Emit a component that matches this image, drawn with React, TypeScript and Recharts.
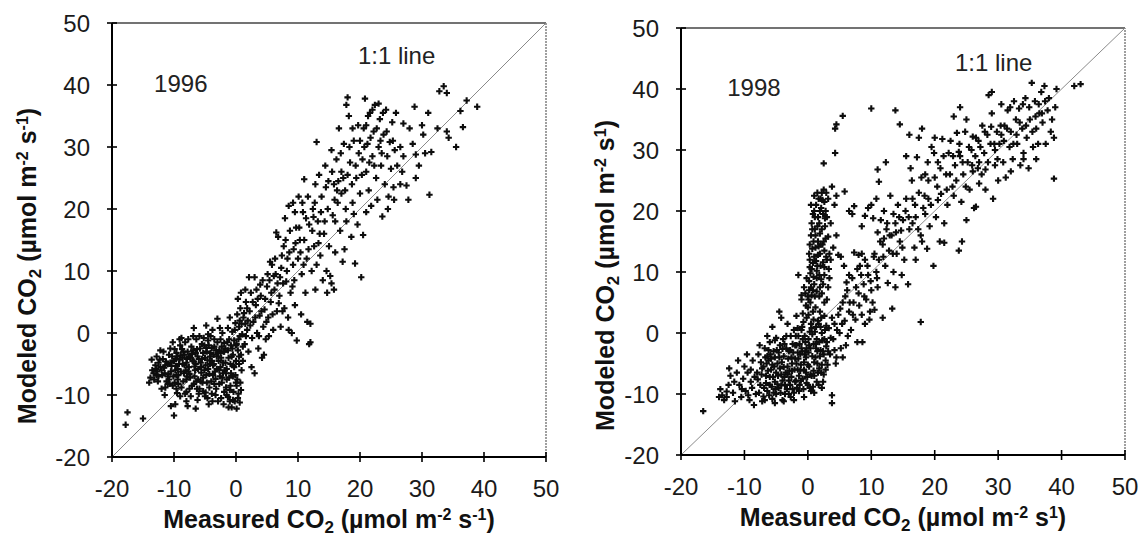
import React from 'react';
import { ScatterChart, Scatter, XAxis, YAxis, ReferenceLine, ReferenceDot } from 'recharts';

const FONT = '"Liberation Sans", Arial, Helvetica, sans-serif';

const axisTicks = [-20, -10, 0, 10, 20, 30, 40, 50];
const axisDomain: [number, number] = [-20, 50];

const yearLabels = ['1996', '1998'];
const lineLabel = '1:1 line';
const xTitleWord = 'Measured';
const yTitleWord = 'Modeled';

// 1996: measured (x) vs modeled (y) CO2 flux
const points1996: [number, number][] = [
  [-17.5,-12.8],[-17.8,-14.8],[-15,-13.8],[-13.2,-7.5],[-14,-8],[-12.5,-7],[-10,-13.3],[-9.8,-11.5],[-10.5,-11.8],[-8,-11],[-7.8,-11.8],[-6.5,-12.2],[-9,-10.2],[-9.5,-9.7],[-11.5,-10],[-12,-9],
  [-13.5,-6],[-13,-5.2],[-12.8,-6.8],[-12.2,-5.5],[-11.8,-4.2],[-11.5,-6.5],[-11.2,-7.8],[-11,-5],[-10.8,-3.5],[-10.5,-6.2],[-10.2,-8.5],[-10,-4.5],[-12.5,-4.8],[-11.7,-3],[-10.6,-2.5],
  [-9.8,-6],[-9.6,-3.2],[-9.4,-7.5],[-9.2,-5],[-9,-2],[-8.8,-8.8],[-8.6,-4],[-8.4,-6.5],[-8.2,-1.5],[-8,-9.5],[-7.8,-3],[-7.6,-5.5],[-7.4,-7.2],[-7.2,-2.2],[-7,-4.5],[-6.8,-8.2],[-6.6,-6],[-6.4,-1],[-6.2,-3.8],[-6,-9.8],[-9.9,-8],[-9.1,-1],[-8.5,-3],[-7.9,-7],[-7.3,-10.2],[-6.9,-0.5],[-6.5,-5],[-6.1,-7.5],
  [-5.8,-2.5],[-5.6,-5.5],[-5.4,-8],[-5.2,-0.8],[-5,-4],[-4.8,-6.8],[-4.6,-10.5],[-4.4,-2],[-4.2,-5],[-4,-7.8],[-3.8,0.5],[-3.6,-3.5],[-3.4,-6.2],[-3.2,-9],[-3,-1.5],[-2.8,-4.5],[-2.6,-7],[-2.4,-10.5],[-2.2,0],[-2,-3],[-5.9,-9],[-5.5,-1.8],[-5.1,-6],[-4.7,-3],[-4.3,-8.8],[-3.9,-4.5],[-3.5,-1],[-3.1,-5.8],[-2.7,-8.2],[-2.3,-2.2],[-4.9,-9.6],[-3.3,-10],[-2.5,-5.5],[-5.3,-3.2],[-4.1,-0.5],
  [-1.8,-6],[-1.6,-8.8],[-1.4,-1.5],[-1.2,-4],[-1,-11],[-0.8,-6.5],[-0.6,-2.5],[-0.4,-9.5],[-0.2,0.5],[0,-4.5],[0.2,-7.5],[0.4,-1],[0.6,2],[0.8,-3.5],[1,-0.2],[-1.9,-3],[-1.5,-10],[-1.1,-7.2],[-0.7,-12],[-0.3,-5.5],[0.1,-12.2],[0.3,-2.8],[0.5,1],[0.7,4],[0.9,-6],[-0.5,-10.8],[0.1,-8.5],[-1.3,0.8],[0.2,3],[0.4,-9.8],
  [-12,-6],[-11,-7],[-10.4,-5.3],[-9.7,-4.2],[-9.3,-6.8],[-8.9,-3.6],[-8.3,-5.2],[-7.7,-6.2],[-7.1,-3.4],[-6.7,-7],[-6.3,-2.6],[-5.7,-4.8],[-5.3,-7.2],[-4.5,-5.8],[-4.5,-1.2],[-3.7,-6.8],[-3.5,-8.2],[-2.9,-3.2],[-2.1,-6.5],[-1.7,-4.8],[-1.3,-2.8],[-0.9,-5],[-0.5,-3.5],[0.5,-5],[-2.5,-1],[-1.5,-7.5],[-3.9,-2.4],[-6,-4.2],[-8,-4.8],[-4.2,-3.8],[-2.7,-2.8],[-1.9,-1.6],[0,-2],[0.6,-0.5],[1.5,1.5],[-0.1,1.6],[-1,2.5],[0.3,5.5],[0.8,6.5],[-7.5,-9],[-5,-10.2],[-3.8,-11],[-2,-11.5],[-0.2,-11],[-9.5,-3.8],[-10.8,-7.5],[-12.8,-3.8],
  [1.2,2.5],[1.4,-1.8],[1.6,5],[1.8,0.5],[2,-3],[2.2,3.5],[2.4,6.5],[2.6,-0.8],[2.8,1.8],[3,-6.5],[3.2,4.5],[3.4,0],[3.6,-2.5],[3.8,2.8],[4,6],[4.2,-4],[4.4,1],[4.6,3.8],[4.8,-1],[5,7.5],[2.1,9],[3,9],[1.5,7],[2.5,-5.5],[3.5,5.5],[4.5,-3.5],[1.1,-4.5],[3.9,7.8],
  [5.2,2.5],[5.4,8.5],[5.6,5],[5.8,11],[6,0.5],[6.2,7],[6.4,9.5],[6.6,3.5],[6.8,15.5],[7,6],[7.2,1],[7.4,12.5],[7.6,8],[7.8,4],[8,15],[8.2,10],[8.4,2.5],[8.6,13],[8.8,6.5],[9,0],[9.2,11],[9.4,8.5],[9.6,14.5],[9.8,-1.2],[10,12],[5.5,11.5],[6.5,16.2],[7.5,3.5],[8.5,0.5],[9.5,4.5],[6.1,9.2],[7.1,9],[8.1,8.3],[9.1,7.5],[7.9,18.5],[8.5,20.5],[9.2,21],[9.5,19.5],[10.1,22],[5.3,-0.5],[6.9,4.8],
  [10.2,17],[10.4,13],[10.6,9.5],[10.8,19.5],[11,15],[11.2,6.5],[11.4,12],[11.6,22],[11.8,17.5],[12,-1.5],[12.2,10],[12.4,20],[12.6,14],[12.8,7],[13,30.8],[13.2,18],[13.4,25.5],[13.6,12.5],[13.8,22],[14,8.5],[14.2,16],[14.4,27],[14.6,10],[14.8,20],[15,14],[15.2,9.2],[11,24.8],[12.5,18.7],[13,11],[14.5,23.5],[10.5,3],[11.5,1.8],[12,1.5],[11.8,-1.8],[10.7,21],[12.8,24],[13.5,16],[14.7,6.5],[15.4,8],[15.8,7],
  [15.4,29.5],[15.6,19],[15.8,24],[16,13],[16.2,28],[16.4,21],[16.6,33],[16.8,16.5],[17,26],[17.2,11.5],[17.4,30.5],[17.6,23],[17.8,18],[18,38],[18.2,35],[18.4,27.5],[18.6,15.5],[18.8,21],[19,31],[19.2,11.2],[19.4,25],[19.6,17.5],[19.8,29],[20,22.5],[20.2,9],[17,22.5],[18,25.5],[16.5,24.5],[19,19.2],[17.5,13.5],[18.8,33],[16,18],[20.5,15.8],[21,19.5],[15.9,21.5],[17.8,36.8],
  [20.4,28],[20.6,33],[20.8,37.8],[21,26],[21.2,30.5],[21.4,23],[21.6,35.5],[21.8,20.5],[22,28.5],[22.2,32.5],[22.4,36.8],[22.6,25],[22.8,21.5],[23,30],[23.2,34.5],[23.4,27],[23.6,18.8],[23.8,32],[24,24],[24.2,36],[24.4,28.5],[24.6,22],[24.8,30.8],[25,26.5],[25.2,34],[25.4,23.5],[25.6,29.5],[25.8,35.5],[26,27],[21,33.5],[22,36],[23,37],[24.5,20],[25.5,21.5],[20,31],[21.5,27.5],[23.5,29],
  [26.5,24],[27,28.5],[27.5,23.8],[27.8,21.5],[28.5,30.5],[28.8,36.5],[29,28.8],[29.5,27],[30,33.5],[30.5,29],[31,35.5],[31.2,22.3],[31.5,29.2],[32.5,33],[32.8,39],[33.5,39.8],[34,38.7],[34,32.5],[34.3,31.5],[35.5,30],[36.2,35.8],[36.6,33.2],[37.2,37.5],[38.9,36.5],[28,33],[29,25],[30.2,32],[26.5,30],[27,33.8],[26.8,26],
];

// 1996: the densely packed core and band (second reading)
const points1996Dense: [number, number][] = [
  [-13.8,-7.2],[-13.3,-6.5],[-12.9,-5.8],[-12.6,-7.8],[-12.3,-4.3],[-11.9,-6.8],[-11.6,-5.6],[-11.3,-4.6],[-10.9,-6.6],[-10.7,-8.2],[-10.3,-3.8],[-10.1,-7],[-9.9,-2.6],[-9.7,-5.3],[-9.3,-8.2],[-9.1,-4.3],[-8.9,-6.2],[-8.7,-2.6],[-8.5,-7.8],[-8.3,-3.5],[-8.1,-6],[-7.9,-4.2],[-7.7,-1],[-7.5,-6.6],[-7.3,-4],[-7.1,-8.5],[-6.9,-2.8],[-6.7,-5.4],[-6.5,-3.2],[-6.3,-9],[-6.1,-5.8],[-5.9,-0.5],[-5.7,-7.8],[-5.5,-4.2],[-5.3,-9.4],[-5.1,-2],[-4.9,-5.2],[-4.7,-8],[-4.5,-0.2],[-4.3,-6.6],[-4.1,-3.2],[-3.9,-9.8],[-3.7,-5.2],[-3.5,-2.2],[-3.3,-7.4],[-3.1,-3.8],[-2.9,-11],[-2.7,-6],[-2.5,-3.2],[-2.3,-8],[-2.1,-4.8],[-1.9,-9.5],[-1.7,-2.5],[-1.5,-5.8],[-1.3,-10.3],[-1.1,-1],[-0.9,-8.5],[-0.7,-3.8],[-0.5,-7],[-0.3,-1.2],[-0.1,-6.8],[0.1,-1.8],[0.3,-10.5],[0.5,-3.8],[0.7,-8],[0.9,1.5],[1.1,-2.2],[1.3,3.2],[1.6,-0.5],[1.9,2],[-0.6,0.2],[-2.6,0.8],[-4.8,1.2],[-3,2.3],[-6.8,0.8],[-8.8,-0.8],[-10.2,-1.5],[-12.2,-2.8],[-13.6,-4.3],[-11.4,-8.8],[-9.6,-9],[-8.2,-9.8],[-6.2,-10.8],[-4.4,-11.5],[-1.2,-12],[0.6,-11.2],
  [-12.7,-6.2],[-11.4,-5.2],[-10.6,-4.8],[-9.4,-5.8],[-8.6,-5],[-7.6,-3.8],[-6.8,-4.6],[-5.6,-6.4],[-4.6,-4.4],[-3.6,-5],[-2.4,-4],[-1.6,-6.5],[-0.8,-2],[0,-8],[-0.4,-5.2],[-2.2,-7.2],[-3.2,-2.8],[-4.8,-2.4],[-6.4,-7.8],[-8,-7.5],[-9.6,-6.8],[-11,-8.2],[0.8,-9.2],[-1,-9.2],
  [1.8,4],[2.3,1.2],[2.7,5],[3.1,2.5],[3.3,7],[3.7,-0.5],[4.1,3.5],[4.3,8.5],[4.7,5.5],[4.9,1.8],[5.1,9.5],[5.7,6.5],[5.9,3],[6.3,12],[6.7,8],[7.3,10.5],[7.7,14],[8.3,12],[8.7,16.5],[9.3,13.5],[9.7,17],[10.3,15],[10.9,11],[11.3,18.5],[11.7,13.5],[12.3,16.5],[12.7,21],[13.3,14.5],[13.7,19.5],[14.3,18],[14.9,24.5],[15.5,26],[16.3,23],[16.9,29],[17.3,25],[17.7,20],[18.3,30],[18.7,24],[19.3,27],[19.7,33.5],[20.3,25.5],[20.7,30],[21.3,35],[21.7,31.5],[22.3,27],[22.7,33],[23.3,31],[23.7,35.5],[24.3,32.5],[25.3,31],
];

// 1998
const points1998: [number, number][] = [
  [-16.5,-12.8],[-14,-10.5],[-13.8,-9.2],[-13.2,-11],[-12.8,-10.5],[-12.5,-8.5],[-12.2,-7],[-11.8,-9.8],[-11.5,-11.2],[-11.2,-6.5],[-10.8,-8.5],[-10.5,-10.5],[-10.2,-7.5],[-10,-5.5],[-9.8,-9.5],[-9.5,-6.5],[-9.2,-11],[-9,-8],[-8.7,-4.5],[-8.5,-11.8],[-8.2,-10],[-8,-6.5],[-7.8,-3.5],[-7.5,-8.5],[-7.2,-11.2],[-7,-5.5],
  [-6.8,-2.5],[-6.6,-7],[-6.4,-9.5],[-6.2,-4.5],[-6,-1.5],[-5.8,-6],[-5.6,-10.8],[-5.4,-3],[-5.2,-8],[-5,-0.8],[-4.8,-5],[-4.6,-9],[-4.4,-2],[-4.2,-6.8],[-4,-11],[-3.8,-3.8],[-3.6,-8.5],[-3.4,-0.5],[-3.2,-5.5],[-3,-10],[-2.8,-2.8],[-2.6,-7.2],[-2.4,-9.2],[-2.2,0.5],[-2,-4.2],[-6.5,-5],[-5.5,-7.2],[-4.5,-4],[-3.5,-6.5],[-2.5,-5],[-6,-8.5],[-5,-10],[-4,-7.8],[-3,-3],[-2,-8],[-4.2,2.5],[-4.5,3.5],[-5.2,-1.2],[-3.7,-1.8],[-2.7,-0.5],
  [-1.8,-2],[-1.6,-6],[-1.4,-9.5],[-1.2,-3.5],[-1,0.5],[-0.8,-7.5],[-0.6,-4.8],[-0.4,-1.5],[-0.2,2.5],[0,-8.5],[0.2,-5.5],[0.4,-2.5],[0.6,0.8],[0.8,3.5],[1,-7],[1.2,-4],[1.4,-1],[1.6,2],[1.8,-5.8],[2,-2.8],[2.2,0],[2.4,-8],[2.6,2.8],[2.8,-4.5],[3,-1.5],[-1.9,-7.8],[-1.5,-0.5],[-1.1,-5.2],[-0.7,1.8],[-0.3,-6.5],[0.1,-3.2],[0.5,-9.5],[0.9,-1.8],[1.3,1],[1.7,-8.5],[2.1,-6.5],[2.5,-3.5],[2.9,1.2],[-0.5,-3.5],[0.7,-0.2],[1.5,-3],[-1.3,-8.5],
  [-0.3,4.5],[0,6],[0.2,8.5],[0.4,5],[0.6,10.5],[0.8,7],[1,12.5],[1.2,4.2],[1.4,9],[1.6,15],[1.8,6],[2,11],[2.2,17],[2.4,8],[2.6,13.5],[2.8,20],[3,5.5],[0.5,16],[0.8,19.5],[1,22.5],[1.3,21],[1.5,23],[1.8,18],[2,22],[2.3,14.5],[2.5,23.5],[2.7,17.5],[3,12],[3.2,22],[3.4,9],[0.3,12],[0.7,13.8],[1.1,17],[1.5,11],[1.9,13],[2.1,20.5],[-0.2,9],[0.1,3],[-1,5.5],[-1.5,9.5],[-1,6.2],[1.4,6.8],[2.6,5],[3.6,18],[4.2,21],[4.5,22.5],[4.5,16],[3.2,15.8],[4,14],[4.8,12.8],[5.2,12.5],[3.8,24],
  [4.5,34.2],[4.3,33.5],[5.5,35.6],[4.3,29.5],[2.5,27.8],[10,36.8],[13.8,36.5],[14.5,34.2],[11.8,2.5],[13.3,4],[17.8,1.8],[3.8,-10.2],[3.8,-11.5],
  [3.5,-3.5],[4,-1],[4.2,1.5],[4.5,-4],[4.8,3],[5,0],[5.2,-2.5],[5.5,5],[5.8,2],[6,-2],[6.2,7],[6.5,3.5],[6.8,0.5],[7,9],[7.2,5],[7.5,2.2],[7.8,-1.5],[8,6.5],[8.2,11],[8.5,3],[8.8,8],[9,1.5],[9.2,5.5],[9.5,9.5],[9.8,3.5],[10,7],[8.6,-1.5],[5.5,-4],[6.5,9.5],[7.3,13.2],[5.7,11],[6.1,8.3],[7.8,10.5],[8.5,13],[9,12],[9.7,2.2],[10.2,5],[10.5,3.8],[11,7.5],
  [5.8,23.2],[6.5,20],[7,19.5],[7.3,20.8],[8,12.8],[8.5,17.5],[9,19.2],[9.5,20.5],[10,21],[10.3,18.8],[10.5,13],[10.8,22],[11,16.5],[11.2,12],[11.5,18.5],[11.8,14.5],[12,20],[12.2,11],[12.5,18],[12.8,13.5],[13,22.5],[13.2,16],[13.5,10],[13.8,18],[14,13],[14.2,21],[14.5,15],[14.8,9.5],[15,18.5],[15.2,12],[15.5,22],[15.8,8],[16,17],[12,15.5],[13.5,19.5],[14.7,16.8],[10.8,10],[12.6,8.2],[13.8,7.5],[11.2,24.8],[12.3,28],[11,26.8],[16.2,27],[15.5,29],
  [16.5,22],[16.8,14],[17,19],[17.2,28.8],[17.5,23],[17.8,16],[18,33.5],[18.2,20.5],[18.5,26],[18.8,13.8],[19,22],[19.2,17.5],[19.5,30.5],[19.8,11],[20,25.5],[20.2,19],[20.5,28],[20.8,15],[21,22.8],[21.2,31.8],[21.5,18],[21.8,26],[22,21],[22.2,29.5],[16,32.5],[17.5,32],[18.5,19.5],[20,32],[19,25],[16.5,18],[17,12],[18,15],[20.5,21.8],[21.5,14.8],
  [22.5,31.5],[22.8,24],[23,35.5],[23.2,27.5],[23.5,32.8],[23.8,13.5],[24,29],[24.2,21.5],[24.5,26],[24.8,33],[25,18.5],[25.2,28],[25.5,23.5],[25.8,30],[26,26.5],[26.2,20.5],[26.5,32],[26.8,27],[27,24.5],[27.2,30.5],[27.5,34],[27.8,29.5],[28,26.8],[28.3,32.5],[28.5,39],[28.8,31],[29,36],[29.2,22],[29.5,27.5],[29.8,33],[30,25],[23.8,29.7],[25,35],[26,32.2],[24.3,15],[27,28],[29,39.5],[24,37],[23,22.5],[26.5,20.7],[28,23.5],[29.5,30],
  [30.2,31],[30.5,37.5],[30.8,28],[31,34],[31.2,25.5],[31.5,36.5],[31.8,30.5],[32,33],[32.3,28.5],[32.5,38],[32.8,35],[33,31],[33.3,36.8],[33.5,27.5],[33.8,33.5],[34,29.5],[34.3,38.5],[34.5,32],[34.8,27],[35,35],[35.3,41],[35.5,30.5],[35.8,38],[36,33.5],[36.3,31],[36.5,36],[36.8,39.5],[37,34.5],[37.3,40.5],[37.5,31],[37.8,36.5],[38,38.5],[38.3,33],[38.5,35],[38.8,32],[38.8,25.3],[39,37],[39.2,40],[42,40.5],[43,40.8],[34,28.5],[32,26.5],[36,28.5],[30.5,32.5],
];

// 1998: the densely packed core, spike and band (second reading)
const points1998Dense: [number, number][] = [
  [-7.7,-9.8],[-7.3,-6.8],[-6.9,-9],[-6.7,-4],[-6.3,-6.2],[-6.1,-10.2],[-5.9,-3.5],[-5.7,-8.8],[-5.3,-5.5],[-5.1,-9.2],[-4.9,-2.8],[-4.7,-7],[-4.3,-9.8],[-4.1,-4.8],[-3.9,-1],[-3.7,-7.2],[-3.3,-9.2],[-3.1,-4.2],[-2.9,-6.2],[-2.7,-10.5],[-2.3,-3.2],[-2.1,-6],[-1.9,-0.5],[-1.7,-9],[-1.5,-4.2],[-1.3,-1.8],[-1.1,-7.8],[-0.9,-3],[-0.7,-9.2],[-0.5,-0.5],[-0.3,-4],[-0.1,-7.2],[0.1,-1],[0.3,-9],[0.5,1.5],[0.7,-3.8],[0.9,-6.2],[1.1,0.2],[1.3,-2.5],[1.5,-5],[1.7,1.5],[1.9,-3.8],[2.1,2.5],[2.3,-1.2],[2.5,-6.8],[2.7,0.5],[2.9,-2.2],[3.1,-5.2],[3.3,0.8],[-6.8,-11],[-5.2,-11.5],[-3.8,-11.2],[-2.2,-11],[-0.6,-10.5],[1,-9.8],[2.2,-9],[-7.6,-2],[-6.4,-0.5],[-5.6,1],[-3.2,1.5],[-1.8,2.8],[-9.6,-3.5],[-11,-4.5],[-12.4,-5.8],
  [-7.9,-7.6],[-7.4,-4.8],[-7,-10.4],[-6.6,-8.2],[-6.2,-2.8],[-5.8,-4.2],[-5.4,-9.8],[-5,-6.5],[-4.6,-3.2],[-4.2,-8.6],[-3.8,-5.6],[-3.4,-2.5],[-3,-7.8],[-2.6,-4],[-2.2,-9.8],[-1.8,-5],[-1.4,-7],[-1,-2.5],[-0.6,-6],[-0.2,-8.2],[0.2,-2],[0.6,-7],[1,-4.8],[1.4,-8],[1.8,-1.5],[2.2,-5.2],[2.6,-1],[-7.2,-5.8],[-6.4,-3.8],[-5.6,-5.2],[-4.8,-8.4],[-4,-2.6],[-3.2,-6.8],[-2.4,-1.8],[-1.6,-3.2],[-0.8,-1],[0,-5.2],[0.8,-8.8],[1.6,-6.5],[2.4,-3],[-6,-7.2],[-5.2,-4],[-4.4,-5.8],[-3.6,-10],[-2.8,-8.5],[-2,-2],[-1.2,-6.2],[-0.4,-3],[0.4,-6.8],[1.2,-1.8],[2,1],[-8.4,-7.2],[-9,-6],[-10.4,-9.2],[-11.6,-8],[-12.8,-9.6],[-13.5,-10.2],[-9.4,-10.2],[-8.8,-9],[0.3,0.2],[-0.9,1],[1.9,3.5],[0.9,2.2],[-0.2,-2.5],[2.8,-6],[3.2,-3],[3.6,-0.8],[4.4,-5],[-1.6,0.8],[-2.5,-6.2],
  [0,4.2],[0.2,7],[0.4,9.8],[0.6,6.2],[0.8,11.5],[1,8],[1.2,14],[1.4,10.2],[1.6,19],[1.8,9.5],[2,14.5],[2.2,6.5],[2.4,19.5],[2.6,10.8],[2.8,15.5],[3,19],[3.2,7.5],[3.4,13],[0.6,18],[1,20],[1.2,16],[1.7,22],[2.2,23],[2.9,23],[0.9,15],[1.6,12.8],[2.4,11.6],[3.3,10.5],[0.3,14.5],[0.5,21],[1.9,16.3],[2.6,21.5],[3.6,12],[-0.6,7.5],[-0.8,3.2],
  [0.1,5.5],[0.5,7.5],[0.9,9.2],[1.3,11.8],[1.7,14.2],[2.1,8.8],[2.5,15],[2.9,12.5],[0.7,17],[1.1,19],[1.9,20],[2.3,21.8],[2.7,18.8],[1.5,17.5],[0.3,10.8],[1.1,6],[1.9,7.5],[2.6,9.5],[0.2,13],[-0.4,6.5],
  [3.8,2.5],[4.2,-2.8],[4.6,0.5],[5.1,4],[5.4,1.5],[5.9,6],[6.3,-0.5],[6.6,5],[7.1,3],[7.6,7.5],[8.1,4.5],[8.4,9.5],[8.9,6],[9.4,11],[9.9,8.5],[10.4,12.5],[10.9,9],[11.4,15],[11.9,12.5],[12.4,17],[12.9,16],[13.4,13],[13.9,16.5],[14.4,19],[14.9,14],[15.4,20],[15.9,19],[16.4,25],[16.9,21],[17.4,17],[17.9,25.5],[18.4,22.5],[18.9,28],[19.4,21],[19.9,29.5],[20.4,24],[20.9,27],[21.4,29],[21.9,23.5],[22.4,26],[22.9,29],[23.4,25],[23.9,31],[24.4,28],[24.9,24],[25.4,30.5],[25.9,27.5],[26.4,29],[26.9,31.5],[27.4,26],[27.9,33],[28.4,28],[28.9,33.8],[29.4,31],[29.9,28.5],[30.4,34],[30.9,31.5],[31.4,33.5],[31.9,37],[32.4,31],[32.9,32.5],[33.4,34.5],[33.9,37.5],[34.4,34],[34.9,37],[35.4,33],[35.9,35.5],[36.4,37.5],[36.9,36],[37.4,38],
];

const toObjects = (pts: [number, number][]) => pts.map(([x, y]) => ({ x, y }));

const PlusShape = (props: any) => {
  const { cx, cy } = props;
  if (cx == null || cy == null) return null;
  const a = 3.2;
  return (
    <path
      d={`M${cx - a},${cy}H${cx + a}M${cx},${cy - a}V${cy + a}`}
      stroke="#0d0d0d"
      strokeWidth={2.1}
      fill="none"
    />
  );
};

const XTick = (props: any) => {
  const { x, y, payload } = props;
  return (
    <g>
      <line x1={x} x2={x} y1={y - 5} y2={y + 5} stroke="#000" strokeWidth={1.6} />
      <text x={x} y={y + 40} textAnchor="middle" fontSize={24} fontFamily={FONT} fill="#1a1a1a">
        {payload.value}
      </text>
    </g>
  );
};

const YTick = (props: any) => {
  const { x, y, payload } = props;
  return (
    <g>
      <line x1={x - 5} x2={x + 5} y1={y} y2={y} stroke="#000" strokeWidth={1.6} />
      <text x={x - 22} y={y + 8.5} textAnchor="end" fontSize={24} fontFamily={FONT} fill="#1a1a1a">
        {payload.value}
      </text>
    </g>
  );
};

const TitleText = ({ x, y, rotate, word, exp1 }: any) => (
  <text
    x={x}
    y={y}
    textAnchor="middle"
    fontFamily={FONT}
    fontWeight="bold"
    fontSize={25}
    fill="#111"
    transform={rotate ? `rotate(-90 ${x} ${y})` : undefined}
  >
    <tspan>{word} CO</tspan>
    <tspan fontSize={17} dy={5}>2</tspan>
    <tspan dy={-5}> (µmol m</tspan>
    <tspan fontSize={16} dy={-8}>-2</tspan>
    <tspan dy={8}> s</tspan>
    <tspan fontSize={16} dy={-8}>{exp1}</tspan>
    <tspan dy={8}>)</tspan>
  </text>
);

type PanelProps = {
  data: [number, number][];
  dense: [number, number][];
  year: string;
  left: number;
  margin: { top: number; right: number; bottom: number; left: number };
  yAxisWidth: number;
  yTitleX: number;
  yTitleDy: number;
  yearPos: [number, number];
  linePos: [number, number];
  exp1x: string;
  exp1y: string;
};

const Panel = (p: PanelProps) => (
  <div style={{ position: 'absolute', left: p.left, top: 0 }}>
    <ScatterChart width={570} height={542} margin={p.margin}>
      <XAxis
        type="number"
        dataKey="x"
        domain={axisDomain}
        ticks={axisTicks}
        allowDataOverflow
        height={60}
        tickSize={0}
        tickMargin={0}
        tickLine={false}
        tick={<XTick />}
        axisLine={{ stroke: '#000', strokeWidth: 2 }}
        label={{
          content: (lp: any) => {
            const vb = lp.viewBox || { x: 0, y: 0, width: 0 };
            return <TitleText x={vb.x + vb.width / 2} y={vb.y + 71} word={xTitleWord} exp1={p.exp1x} />;
          },
        }}
      />
      <YAxis
        type="number"
        dataKey="y"
        domain={axisDomain}
        ticks={axisTicks}
        allowDataOverflow
        width={p.yAxisWidth}
        tickSize={0}
        tickMargin={0}
        tickLine={false}
        tick={<YTick />}
        axisLine={{ stroke: '#000', strokeWidth: 2 }}
        label={{
          content: (lp: any) => {
            const vb = lp.viewBox || { x: 0, y: 0, width: 0, height: 0 };
            return (
              <TitleText
                x={p.yTitleX}
                y={vb.y + vb.height / 2 + p.yTitleDy}
                rotate
                word={yTitleWord}
                exp1={p.exp1y}
              />
            );
          },
        }}
      />
      <ReferenceLine y={50} stroke="#444" strokeWidth={1.4} ifOverflow="visible" />
      <ReferenceLine x={50} stroke="#777" strokeWidth={1.4} strokeDasharray="2 1" ifOverflow="visible" />
      <ReferenceLine
        segment={[{ x: -20, y: -20 }, { x: 50, y: 50 }]}
        stroke="#8a8a8a"
        strokeWidth={1}
        ifOverflow="visible"
      />
      <Scatter data={toObjects(p.data)} shape={PlusShape} isAnimationActive={false} />
      <Scatter data={toObjects(p.dense)} shape={PlusShape} isAnimationActive={false} />
      <ReferenceDot
        x={p.yearPos[0]}
        y={p.yearPos[1]}
        r={0.01}
        fill="none"
        stroke="none"
        label={{ value: p.year, position: 'center', fontSize: 24, fontFamily: FONT, fill: '#222' }}
      />
      <ReferenceDot
        x={p.linePos[0]}
        y={p.linePos[1]}
        r={0.01}
        fill="none"
        stroke="none"
        label={{ value: lineLabel, position: 'center', fontSize: 24, fontFamily: FONT, fill: '#222' }}
      />
    </ScatterChart>
  </div>
);

export default function App() {
  return (
    <div
      style={{
        position: 'absolute',
        left: 0,
        top: 0,
        width: 1140,
        height: 542,
        background: '#fff',
        overflow: 'hidden',
      }}
    >
      <Panel
        data={points1996}
        dense={points1996Dense}
        year={yearLabels[0]}
        left={0}
        margin={{ top: 23, right: 24, bottom: 25, left: 0 }}
        yAxisWidth={112}
        yTitleX={36}
        yTitleDy={26}
        yearPos={[-8.9, 40.2]}
        linePos={[25.9, 44.7]}
        exp1x="-1"
        exp1y="-1"
      />
      <Panel
        data={points1998}
        dense={points1998Dense}
        year={yearLabels[1]}
        left={570}
        margin={{ top: 28, right: 15, bottom: 27, left: 0 }}
        yAxisWidth={111}
        yTitleX={44}
        yTitleDy={34}
        yearPos={[-8.5, 40.2]}
        linePos={[29.3, 44.3]}
        exp1x="1"
        exp1y="1"
      />
    </div>
  );
}
